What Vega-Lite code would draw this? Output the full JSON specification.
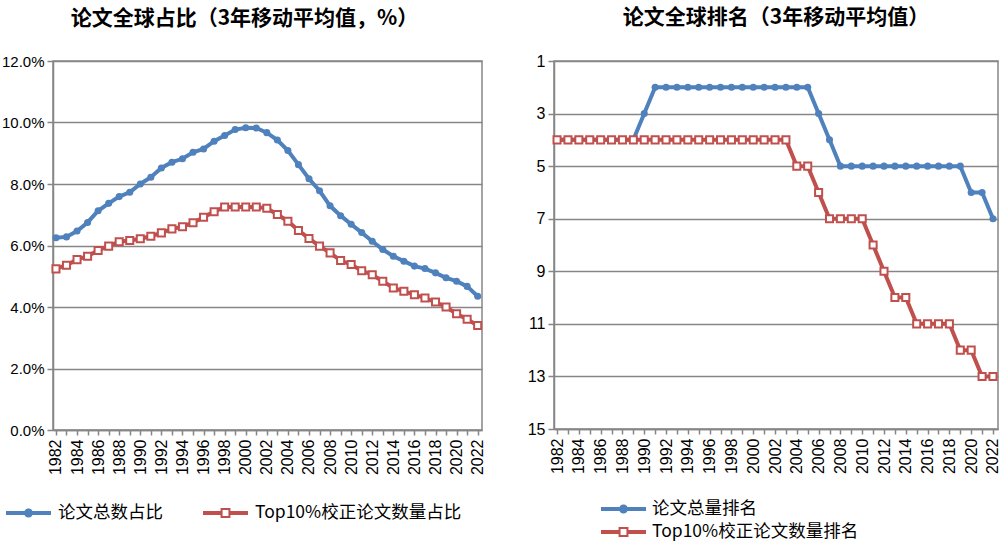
{
  "$schema": "https://vega.github.io/schema/vega-lite/v6.json",
  "background": "white",
  "padding": {"left": 0, "top": 6, "right": 0, "bottom": 0},
  "spacing": 39,
  "resolve": {"scale": {"color": "independent"}, "legend": {"color": "independent"}},
  "config": {
    "view": {"stroke": "#868686", "strokeWidth": 1.5},
    "axis": {"domainColor": "#868686", "domainWidth": 1.5, "tickColor": "#868686", "tickWidth": 1.5, "gridColor": "#868686", "gridWidth": 1.5, "labelColor": "#000000", "labelFont": "Liberation Sans", "labelFontSize": 15, "title": null},
    "title": {"font": "Noto Sans CJK SC", "fontSize": 21, "fontWeight": "bold", "color": "#000000", "anchor": "middle", "frame": "group", "offset": 25},
    "legend": {"padding": 0, "labelFont": "Noto Sans CJK SC", "labelFontSize": 17.5, "labelColor": "#000000", "labelLimit": 400, "title": null}
  },
  "datasets": {
    "share": [
      {"year": 1982, "series": "论文总数占比", "value": 6.25}, {"year": 1983, "series": "论文总数占比", "value": 6.28}, {"year": 1984, "series": "论文总数占比", "value": 6.47}, {"year": 1985, "series": "论文总数占比", "value": 6.75}, {"year": 1986, "series": "论文总数占比", "value": 7.13}, {"year": 1987, "series": "论文总数占比", "value": 7.37}, {"year": 1988, "series": "论文总数占比", "value": 7.59}, {"year": 1989, "series": "论文总数占比", "value": 7.73}, {"year": 1990, "series": "论文总数占比", "value": 8.0}, {"year": 1991, "series": "论文总数占比", "value": 8.22}, {"year": 1992, "series": "论文总数占比", "value": 8.52}, {"year": 1993, "series": "论文总数占比", "value": 8.71}, {"year": 1994, "series": "论文总数占比", "value": 8.82}, {"year": 1995, "series": "论文总数占比", "value": 9.03}, {"year": 1996, "series": "论文总数占比", "value": 9.14}, {"year": 1997, "series": "论文总数占比", "value": 9.39}, {"year": 1998, "series": "论文总数占比", "value": 9.58}, {"year": 1999, "series": "论文总数占比", "value": 9.77}, {"year": 2000, "series": "论文总数占比", "value": 9.83}, {"year": 2001, "series": "论文总数占比", "value": 9.82}, {"year": 2002, "series": "论文总数占比", "value": 9.67}, {"year": 2003, "series": "论文总数占比", "value": 9.43}, {"year": 2004, "series": "论文总数占比", "value": 9.09}, {"year": 2005, "series": "论文总数占比", "value": 8.63}, {"year": 2006, "series": "论文总数占比", "value": 8.17}, {"year": 2007, "series": "论文总数占比", "value": 7.78}, {"year": 2008, "series": "论文总数占比", "value": 7.29}, {"year": 2009, "series": "论文总数占比", "value": 6.97}, {"year": 2010, "series": "论文总数占比", "value": 6.69}, {"year": 2011, "series": "论文总数占比", "value": 6.42}, {"year": 2012, "series": "论文总数占比", "value": 6.14}, {"year": 2013, "series": "论文总数占比", "value": 5.87}, {"year": 2014, "series": "论文总数占比", "value": 5.65}, {"year": 2015, "series": "论文总数占比", "value": 5.49}, {"year": 2016, "series": "论文总数占比", "value": 5.33}, {"year": 2017, "series": "论文总数占比", "value": 5.25}, {"year": 2018, "series": "论文总数占比", "value": 5.11}, {"year": 2019, "series": "论文总数占比", "value": 4.95}, {"year": 2020, "series": "论文总数占比", "value": 4.84}, {"year": 2021, "series": "论文总数占比", "value": 4.67}, {"year": 2022, "series": "论文总数占比", "value": 4.35},
      {"year": 1982, "series": "Top10%校正论文数量占比", "value": 5.24}, {"year": 1983, "series": "Top10%校正论文数量占比", "value": 5.36}, {"year": 1984, "series": "Top10%校正论文数量占比", "value": 5.54}, {"year": 1985, "series": "Top10%校正论文数量占比", "value": 5.65}, {"year": 1986, "series": "Top10%校正论文数量占比", "value": 5.84}, {"year": 1987, "series": "Top10%校正论文数量占比", "value": 5.98}, {"year": 1988, "series": "Top10%校正论文数量占比", "value": 6.12}, {"year": 1989, "series": "Top10%校正论文数量占比", "value": 6.16}, {"year": 1990, "series": "Top10%校正论文数量占比", "value": 6.22}, {"year": 1991, "series": "Top10%校正论文数量占比", "value": 6.3}, {"year": 1992, "series": "Top10%校正论文数量占比", "value": 6.41}, {"year": 1993, "series": "Top10%校正论文数量占比", "value": 6.54}, {"year": 1994, "series": "Top10%校正论文数量占比", "value": 6.61}, {"year": 1995, "series": "Top10%校正论文数量占比", "value": 6.74}, {"year": 1996, "series": "Top10%校正论文数量占比", "value": 6.92}, {"year": 1997, "series": "Top10%校正论文数量占比", "value": 7.1}, {"year": 1998, "series": "Top10%校正论文数量占比", "value": 7.25}, {"year": 1999, "series": "Top10%校正论文数量占比", "value": 7.25}, {"year": 2000, "series": "Top10%校正论文数量占比", "value": 7.25}, {"year": 2001, "series": "Top10%校正论文数量占比", "value": 7.25}, {"year": 2002, "series": "Top10%校正论文数量占比", "value": 7.21}, {"year": 2003, "series": "Top10%校正论文数量占比", "value": 7.01}, {"year": 2004, "series": "Top10%校正论文数量占比", "value": 6.79}, {"year": 2005, "series": "Top10%校正论文数量占比", "value": 6.49}, {"year": 2006, "series": "Top10%校正论文数量占比", "value": 6.23}, {"year": 2007, "series": "Top10%校正论文数量占比", "value": 5.98}, {"year": 2008, "series": "Top10%校正论文数量占比", "value": 5.76}, {"year": 2009, "series": "Top10%校正论文数量占比", "value": 5.51}, {"year": 2010, "series": "Top10%校正论文数量占比", "value": 5.38}, {"year": 2011, "series": "Top10%校正论文数量占比", "value": 5.18}, {"year": 2012, "series": "Top10%校正论文数量占比", "value": 5.05}, {"year": 2013, "series": "Top10%校正论文数量占比", "value": 4.84}, {"year": 2014, "series": "Top10%校正论文数量占比", "value": 4.62}, {"year": 2015, "series": "Top10%校正论文数量占比", "value": 4.51}, {"year": 2016, "series": "Top10%校正论文数量占比", "value": 4.4}, {"year": 2017, "series": "Top10%校正论文数量占比", "value": 4.29}, {"year": 2018, "series": "Top10%校正论文数量占比", "value": 4.16}, {"year": 2019, "series": "Top10%校正论文数量占比", "value": 4.0}, {"year": 2020, "series": "Top10%校正论文数量占比", "value": 3.78}, {"year": 2021, "series": "Top10%校正论文数量占比", "value": 3.6}, {"year": 2022, "series": "Top10%校正论文数量占比", "value": 3.4}
    ],
    "rank": [
      {"year": 1982, "series": "论文总量排名", "rank": 4}, {"year": 1983, "series": "论文总量排名", "rank": 4}, {"year": 1984, "series": "论文总量排名", "rank": 4}, {"year": 1985, "series": "论文总量排名", "rank": 4}, {"year": 1986, "series": "论文总量排名", "rank": 4}, {"year": 1987, "series": "论文总量排名", "rank": 4}, {"year": 1988, "series": "论文总量排名", "rank": 4}, {"year": 1989, "series": "论文总量排名", "rank": 4}, {"year": 1990, "series": "论文总量排名", "rank": 3}, {"year": 1991, "series": "论文总量排名", "rank": 2}, {"year": 1992, "series": "论文总量排名", "rank": 2}, {"year": 1993, "series": "论文总量排名", "rank": 2}, {"year": 1994, "series": "论文总量排名", "rank": 2}, {"year": 1995, "series": "论文总量排名", "rank": 2}, {"year": 1996, "series": "论文总量排名", "rank": 2}, {"year": 1997, "series": "论文总量排名", "rank": 2}, {"year": 1998, "series": "论文总量排名", "rank": 2}, {"year": 1999, "series": "论文总量排名", "rank": 2}, {"year": 2000, "series": "论文总量排名", "rank": 2}, {"year": 2001, "series": "论文总量排名", "rank": 2}, {"year": 2002, "series": "论文总量排名", "rank": 2}, {"year": 2003, "series": "论文总量排名", "rank": 2}, {"year": 2004, "series": "论文总量排名", "rank": 2}, {"year": 2005, "series": "论文总量排名", "rank": 2}, {"year": 2006, "series": "论文总量排名", "rank": 3}, {"year": 2007, "series": "论文总量排名", "rank": 4}, {"year": 2008, "series": "论文总量排名", "rank": 5}, {"year": 2009, "series": "论文总量排名", "rank": 5}, {"year": 2010, "series": "论文总量排名", "rank": 5}, {"year": 2011, "series": "论文总量排名", "rank": 5}, {"year": 2012, "series": "论文总量排名", "rank": 5}, {"year": 2013, "series": "论文总量排名", "rank": 5}, {"year": 2014, "series": "论文总量排名", "rank": 5}, {"year": 2015, "series": "论文总量排名", "rank": 5}, {"year": 2016, "series": "论文总量排名", "rank": 5}, {"year": 2017, "series": "论文总量排名", "rank": 5}, {"year": 2018, "series": "论文总量排名", "rank": 5}, {"year": 2019, "series": "论文总量排名", "rank": 5}, {"year": 2020, "series": "论文总量排名", "rank": 6}, {"year": 2021, "series": "论文总量排名", "rank": 6}, {"year": 2022, "series": "论文总量排名", "rank": 7},
      {"year": 1982, "series": "Top10%校正论文数量排名", "rank": 4}, {"year": 1983, "series": "Top10%校正论文数量排名", "rank": 4}, {"year": 1984, "series": "Top10%校正论文数量排名", "rank": 4}, {"year": 1985, "series": "Top10%校正论文数量排名", "rank": 4}, {"year": 1986, "series": "Top10%校正论文数量排名", "rank": 4}, {"year": 1987, "series": "Top10%校正论文数量排名", "rank": 4}, {"year": 1988, "series": "Top10%校正论文数量排名", "rank": 4}, {"year": 1989, "series": "Top10%校正论文数量排名", "rank": 4}, {"year": 1990, "series": "Top10%校正论文数量排名", "rank": 4}, {"year": 1991, "series": "Top10%校正论文数量排名", "rank": 4}, {"year": 1992, "series": "Top10%校正论文数量排名", "rank": 4}, {"year": 1993, "series": "Top10%校正论文数量排名", "rank": 4}, {"year": 1994, "series": "Top10%校正论文数量排名", "rank": 4}, {"year": 1995, "series": "Top10%校正论文数量排名", "rank": 4}, {"year": 1996, "series": "Top10%校正论文数量排名", "rank": 4}, {"year": 1997, "series": "Top10%校正论文数量排名", "rank": 4}, {"year": 1998, "series": "Top10%校正论文数量排名", "rank": 4}, {"year": 1999, "series": "Top10%校正论文数量排名", "rank": 4}, {"year": 2000, "series": "Top10%校正论文数量排名", "rank": 4}, {"year": 2001, "series": "Top10%校正论文数量排名", "rank": 4}, {"year": 2002, "series": "Top10%校正论文数量排名", "rank": 4}, {"year": 2003, "series": "Top10%校正论文数量排名", "rank": 4}, {"year": 2004, "series": "Top10%校正论文数量排名", "rank": 5}, {"year": 2005, "series": "Top10%校正论文数量排名", "rank": 5}, {"year": 2006, "series": "Top10%校正论文数量排名", "rank": 6}, {"year": 2007, "series": "Top10%校正论文数量排名", "rank": 7}, {"year": 2008, "series": "Top10%校正论文数量排名", "rank": 7}, {"year": 2009, "series": "Top10%校正论文数量排名", "rank": 7}, {"year": 2010, "series": "Top10%校正论文数量排名", "rank": 7}, {"year": 2011, "series": "Top10%校正论文数量排名", "rank": 8}, {"year": 2012, "series": "Top10%校正论文数量排名", "rank": 9}, {"year": 2013, "series": "Top10%校正论文数量排名", "rank": 10}, {"year": 2014, "series": "Top10%校正论文数量排名", "rank": 10}, {"year": 2015, "series": "Top10%校正论文数量排名", "rank": 11}, {"year": 2016, "series": "Top10%校正论文数量排名", "rank": 11}, {"year": 2017, "series": "Top10%校正论文数量排名", "rank": 11}, {"year": 2018, "series": "Top10%校正论文数量排名", "rank": 11}, {"year": 2019, "series": "Top10%校正论文数量排名", "rank": 12}, {"year": 2020, "series": "Top10%校正论文数量排名", "rank": 12}, {"year": 2021, "series": "Top10%校正论文数量排名", "rank": 13}, {"year": 2022, "series": "Top10%校正论文数量排名", "rank": 13}
    ]
  },
  "hconcat": [
    {
      "width": 429,
      "height": 369,
      "title": {"text": "论文全球占比（3年移动平均值，%）", "dx": -23},
      "data": {"name": "share"},
      "encoding": {
        "x": {"field": "year", "type": "quantitative", "scale": {"domain": [1981.72, 2022.41], "nice": false, "zero": false},
          "axis": {"values": [1982,1983,1984,1985,1986,1987,1988,1989,1990,1991,1992,1993,1994,1995,1996,1997,1998,1999,2000,2001,2002,2003,2004,2005,2006,2007,2008,2009,2010,2011,2012,2013,2014,2015,2016,2017,2018,2019,2020,2021,2022], "format": "d", "labelExpr": "datum.value % 2 === 0 ? datum.label : ''", "labelAngle": -90, "labelFontSize": 16, "grid": false, "tickSize": 5, "labelPadding": 4, "labelOverlap": false, "labelBound": false, "labelFlush": false}},
        "y": {"field": "value", "type": "quantitative", "scale": {"domain": [0, 12], "nice": false},
          "axis": {"values": [0, 2, 4, 6, 8, 10, 12], "labelExpr": "format(datum.value, '.1f') + '%'", "tickSize": 6, "labelPadding": 3}}
      },
      "layer": [
        {
          "mark": {"type": "line", "strokeWidth": 4},
          "encoding": {
            "color": {"field": "series", "type": "nominal",
              "scale": {"domain": ["论文总数占比", "Top10%校正论文数量占比"], "range": ["#4F81BD", "#C0504D"]},
              "legend": {"orient": "none", "legendX": -47, "legendY": 442, "direction": "horizontal", "symbolSize": 2025, "clipHeight": 20, "labelOffset": 7, "columnPadding": 40,
                "symbolType": "M-1,-0.09H1V0.09H-1Z",
                "encode": {"symbols": {"update": {
                  "shape": {"signal": "indexof(datum.value, 'Top') === 0 ? 'M-1,-0.09H-0.22V0.09H-1Z M0.22,-0.09H1V0.09H0.22Z M-0.22,-0.22H0.22V0.22H-0.22Z M-0.13,-0.13V0.13H0.13V-0.13Z' : 'M-1,-0.09H1V0.09H-1Z M0.2,0A0.2,0.2,0,1,1,-0.2,0A0.2,0.2,0,1,1,0.2,0Z'"},
                  "fill": {"signal": "indexof(datum.value, 'Top') === 0 ? '#C0504D' : '#4F81BD'"},
                  "stroke": {"value": "transparent"},
                  "strokeWidth": {"value": 0},
                  "opacity": {"value": 1}
                }}}
              }}
          }
        },
        {
          "transform": [{"filter": "datum.series === '论文总数占比'"}],
          "mark": {"type": "point", "shape": "circle", "filled": true, "color": "#4F81BD", "size": 50, "opacity": 1}
        },
        {
          "transform": [{"filter": "datum.series !== '论文总数占比'"}],
          "mark": {"type": "point", "shape": "square", "filled": true, "fill": "white", "stroke": "#C0504D", "strokeWidth": 2, "size": 50, "opacity": 1}
        }
      ]
    },
    {
      "width": 444,
      "height": 368,
      "title": {"text": "论文全球排名（3年移动平均值）"},
      "data": {"name": "rank"},
      "encoding": {
        "x": {"field": "year", "type": "quantitative", "scale": {"domain": [1981.72, 2022.46], "nice": false, "zero": false},
          "axis": {"values": [1982,1983,1984,1985,1986,1987,1988,1989,1990,1991,1992,1993,1994,1995,1996,1997,1998,1999,2000,2001,2002,2003,2004,2005,2006,2007,2008,2009,2010,2011,2012,2013,2014,2015,2016,2017,2018,2019,2020,2021,2022], "format": "d", "labelExpr": "datum.value % 2 === 0 ? datum.label : ''", "labelAngle": -90, "labelFontSize": 16, "grid": false, "tickSize": 5, "labelPadding": 4, "labelOverlap": false, "labelBound": false, "labelFlush": false}},
        "y": {"field": "rank", "type": "quantitative", "scale": {"domain": [1, 15], "reverse": true, "nice": false, "zero": false},
          "axis": {"values": [1, 3, 5, 7, 9, 11, 13, 15], "labelFontSize": 16, "tickSize": 6, "labelPadding": 3}}
      },
      "layer": [
        {
          "mark": {"type": "line", "strokeWidth": 4},
          "encoding": {
            "color": {"field": "series", "type": "nominal",
              "scale": {"domain": ["论文总量排名", "Top10%校正论文数量排名"], "range": ["#4F81BD", "#C0504D"]},
              "legend": {"orient": "none", "legendX": 47, "legendY": 438, "direction": "vertical", "columns": 1, "symbolSize": 2025, "clipHeight": 20, "rowPadding": 3, "labelOffset": 6,
                "symbolType": "M-1,-0.09H1V0.09H-1Z",
                "encode": {"symbols": {"update": {
                  "shape": {"signal": "indexof(datum.value, 'Top') === 0 ? 'M-1,-0.09H-0.22V0.09H-1Z M0.22,-0.09H1V0.09H0.22Z M-0.22,-0.22H0.22V0.22H-0.22Z M-0.13,-0.13V0.13H0.13V-0.13Z' : 'M-1,-0.09H1V0.09H-1Z M0.2,0A0.2,0.2,0,1,1,-0.2,0A0.2,0.2,0,1,1,0.2,0Z'"},
                  "fill": {"signal": "indexof(datum.value, 'Top') === 0 ? '#C0504D' : '#4F81BD'"},
                  "stroke": {"value": "transparent"},
                  "strokeWidth": {"value": 0},
                  "opacity": {"value": 1}
                }}}
              }}
          }
        },
        {
          "transform": [{"filter": "datum.series === '论文总量排名'"}],
          "mark": {"type": "point", "shape": "circle", "filled": true, "color": "#4F81BD", "size": 50, "opacity": 1}
        },
        {
          "transform": [{"filter": "datum.series !== '论文总量排名'"}],
          "mark": {"type": "point", "shape": "square", "filled": true, "fill": "white", "stroke": "#C0504D", "strokeWidth": 2, "size": 50, "opacity": 1}
        }
      ]
    }
  ]
}
